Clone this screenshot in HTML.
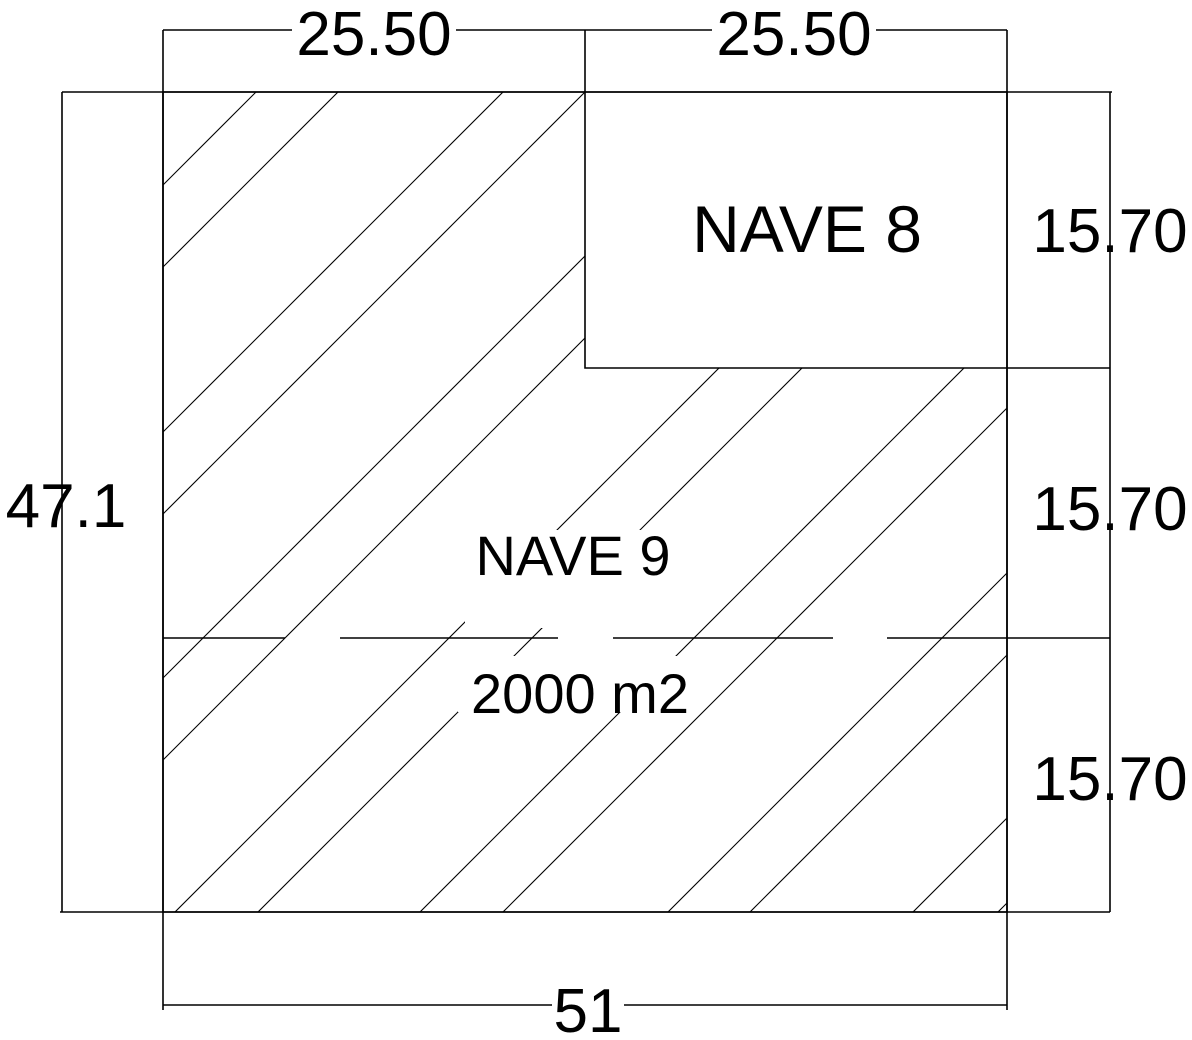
<!DOCTYPE html>
<html><head><style>
html,body{margin:0;padding:0;background:#fff;width:1192px;height:1040px;overflow:hidden;}
svg{display:block;}
text{font-family:"Liberation Sans",Arial,sans-serif;fill:#000;}
</style></head><body>
<svg width="1192" height="1040" viewBox="0 0 1192 1040" xmlns="http://www.w3.org/2000/svg">
<defs>
<clipPath id="hc">
<path d="M163 92 H585 V368 H1007 V912 H163 Z"/>
</clipPath>
</defs>
<g clip-path="url(#hc)" stroke="#000" stroke-width="1.1">
<line x1="-100" y1="448" x2="448" y2="-100"/>
<line x1="-100" y1="530" x2="530" y2="-100"/>
<line x1="-100" y1="695" x2="695" y2="-100"/>
<line x1="-100" y1="777" x2="777" y2="-100"/>
<line x1="-100" y1="941" x2="941" y2="-100"/>
<line x1="-100" y1="1023" x2="1023" y2="-100"/>
<line x1="-100" y1="1187" x2="1187" y2="-100"/>
<line x1="-100" y1="1270" x2="1270" y2="-100"/>
<line x1="-100" y1="1432" x2="1432" y2="-100"/>
<line x1="-100" y1="1515" x2="1515" y2="-100"/>
<line x1="-100" y1="1680" x2="1680" y2="-100"/>
<line x1="-100" y1="1762" x2="1762" y2="-100"/>
<line x1="-100" y1="1925" x2="1925" y2="-100"/>
<line x1="-100" y1="2010" x2="2010" y2="-100"/>
</g>
<rect x="465" y="554" width="225" height="74" fill="#fff"/>
<rect x="465" y="530" width="210" height="50" fill="#fff"/>
<rect x="458" y="656" width="244" height="56" fill="#fff"/>
<g stroke="#000" stroke-width="1.6" fill="none">
<path d="M163 92 H1007 V912 H163 Z"/>
<path d="M585 92 V368 H1007"/>
<line x1="163" y1="30" x2="1007" y2="30"/>
<line x1="163" y1="30" x2="163" y2="1010"/>
<line x1="585" y1="30" x2="585" y2="92"/>
<line x1="1007" y1="30" x2="1007" y2="1010"/>
<line x1="62" y1="92" x2="1112" y2="92"/>
<line x1="60" y1="912" x2="1110" y2="912"/>
<line x1="62" y1="92" x2="62" y2="912"/>
<line x1="1110" y1="92" x2="1110" y2="912"/>
<line x1="1007" y1="368" x2="1110" y2="368"/>
<line x1="163" y1="1005" x2="1007" y2="1005"/>
<line x1="163" y1="638" x2="285" y2="638"/>
<line x1="340" y1="638" x2="558" y2="638"/>
<line x1="613" y1="638" x2="833" y2="638"/>
<line x1="887" y1="638" x2="1110" y2="638"/>
</g>
<rect x="292" y="8" width="164" height="48" fill="#fff"/>
<rect x="712" y="8" width="164" height="48" fill="#fff"/>
<rect x="552" y="985" width="72" height="50" fill="#fff"/>
<text x="374" y="55" font-size="62" text-anchor="middle">25.50</text>
<text x="794" y="55" font-size="62" text-anchor="middle">25.50</text>
<text x="807" y="252" font-size="66" text-anchor="middle">NAVE 8</text>
<text x="1110" y="252" font-size="62" text-anchor="middle">15.70</text>
<text x="1110" y="530" font-size="62" text-anchor="middle">15.70</text>
<text x="1110" y="800" font-size="62" text-anchor="middle">15.70</text>
<text x="66" y="527" font-size="62" text-anchor="middle">47.1</text>
<text x="573" y="575" font-size="56" text-anchor="middle">NAVE 9</text>
<text x="580" y="713" font-size="56" text-anchor="middle">2000 m2</text>
<text x="588" y="1032" font-size="62" text-anchor="middle">51</text>
</svg>
</body></html>
